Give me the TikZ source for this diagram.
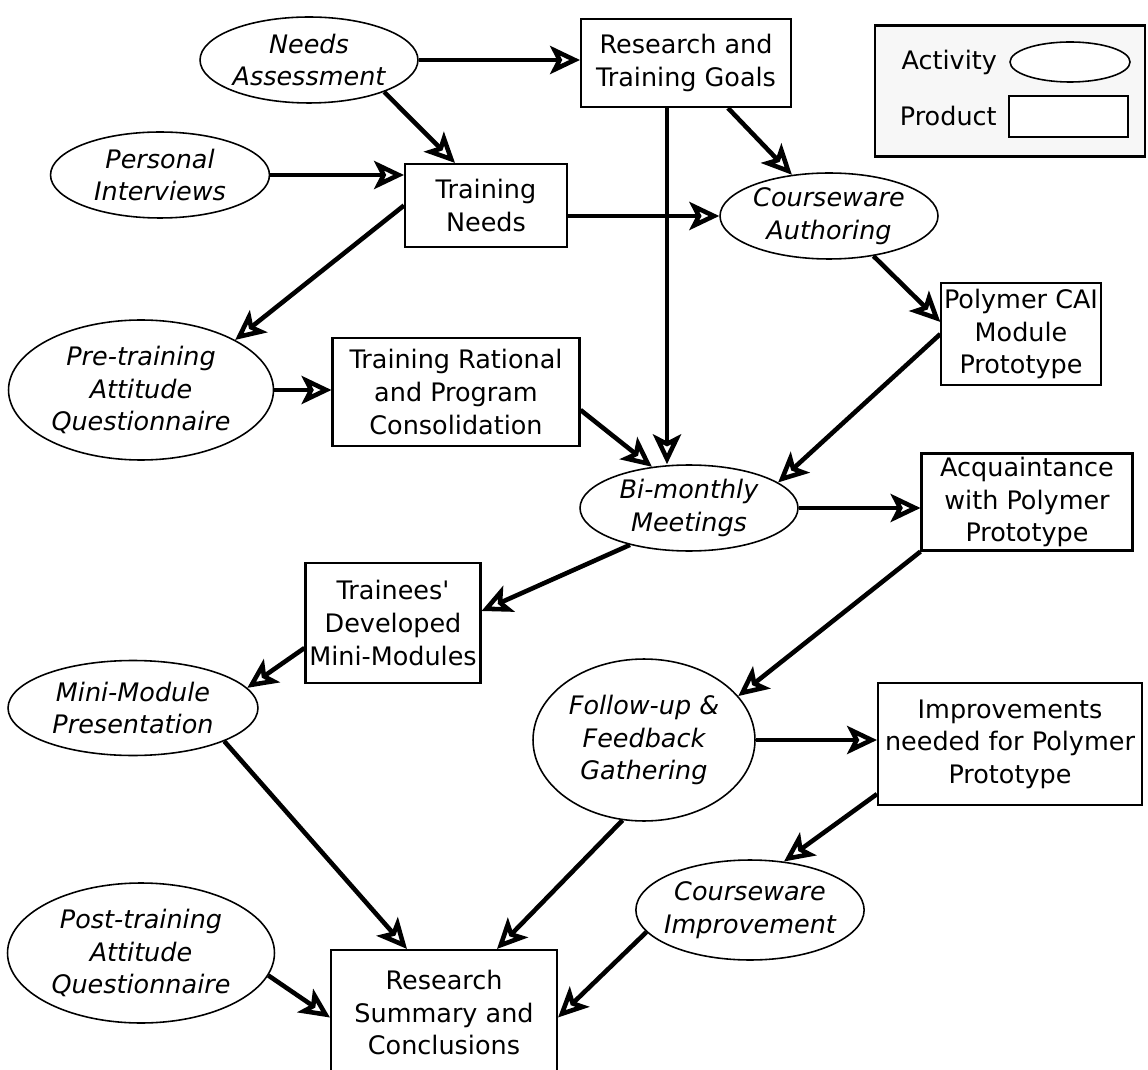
\documentclass[tikz,border=0pt]{standalone}
\usepackage{fontspec}
\setmainfont{DejaVu Sans}
\usepackage{tikz}
\usetikzlibrary{calc,shapes.geometric,arrows.meta}
\definecolor{legendbg}{HTML}{F7F7F7}
\tikzset{
  activity/.style={ellipse, draw, line width=0.9pt, inner sep=-3pt, align=center,
    font=\itshape\fontsize{14.5}{18.5}\selectfont},
  product/.style={rectangle, draw, line width=1.2pt, inner sep=1.5pt, align=center,
    font=\fontsize{14.5}{18.5}\selectfont},
  flow/.style={line width=2.6pt, -{Stealth[open,length=17pt,width=16pt,inset=4pt]}},
}

\begin{document}
\begin{tikzpicture}[x=0.02cm, y=-0.02cm]
  \useasboundingbox (0,0) rectangle (1148,1070);
  % legend
  \node[draw, line width=1.2pt, fill=legendbg, minimum width=5.4cm, minimum height=2.62cm] (lg) at (1010,91) {};
  \node[ellipse, draw, line width=0.9pt, fill=white, minimum width=2.4cm, minimum height=0.8cm] (lgact) at (1070,62) {};
  \node[draw, line width=1.2pt, fill=white, minimum width=2.38cm, minimum height=0.82cm] (lgprod) at (1068.5,116.5) {};
  \node[anchor=east, inner sep=0pt, font=\fontsize{14.5}{18.5}\selectfont] (lgacttxt) at ($(lgact.west)+(-12,0)$) {Activity};
  \node[anchor=east, inner sep=0pt, font=\fontsize{14.5}{18.5}\selectfont] (lgprodtxt) at ($(lgprod.west)+(-11,0)$) {Product};
  % activities
  \node[activity, minimum width=4.36cm, minimum height=1.72cm] (na) at (309,60) {Needs\\Assessment};
  \node[activity, minimum width=4.38cm, minimum height=1.72cm] (pi) at (160,175) {Personal\\Interviews};
  \node[activity, minimum width=4.36cm, minimum height=1.72cm] (ca) at (829,216) {Courseware\\Authoring};
  \node[activity, minimum width=5.3cm, minimum height=2.8cm] (pa) at (141,390) {Pre-training\\Attitude\\Questionnaire};
  \node[activity, minimum width=4.36cm, minimum height=1.72cm] (bm) at (689,508) {Bi-monthly\\Meetings};
  \node[activity, minimum width=5.0cm, minimum height=1.9cm] (mm) at (133,708) {Mini-Module\\Presentation};
  \node[activity, minimum width=4.44cm, minimum height=3.24cm] (fu) at (644,740) {Follow-up \&\\Feedback\\Gathering};
  \node[activity, minimum width=4.32cm, minimum height=2.0cm] (ci) at (750,910) {Courseware\\Improvement};
  \node[activity, minimum width=5.34cm, minimum height=2.8cm] (pt) at (141,953) {Post-training\\Attitude\\Questionnaire};
  % products
  \node[product, minimum width=4.2cm, minimum height=1.76cm] (rg) at (686,63) {Research and\\Training Goals};
  \node[product, minimum width=3.24cm, minimum height=1.66cm] (tn) at (486,205.5) {Training\\Needs};
  \node[product, minimum width=3.1cm, minimum height=2.04cm] (pc) at (1021,334) {Polymer CAI\\Module\\Prototype};
  \node[product, minimum width=4.94cm, minimum height=2.16cm] (tr) at (456,392) {Training Rational\\and Program\\Consolidation};
  \node[product, minimum width=4.22cm, minimum height=1.94cm] (aq) at (1027,502) {Acquaintance\\with Polymer\\Prototype};
  \node[product, minimum width=3.5cm, minimum height=2.4cm] (td) at (393,623) {Trainees\textquotesingle\\Developed\\Mini-Modules};
  \node[product, minimum width=5.28cm, minimum height=2.44cm] (im) at (1010,744) {Improvements\\needed for Polymer\\Prototype};
  \node[product, minimum width=4.52cm, minimum height=2.5cm] (rs) at (444,1012.5) {Research\\Summary and\\Conclusions};
  % connectors
  \coordinate (rgv) at ($(rg.south)+(-19,0)$);
  \draw[flow] (na.east) -- (na.east -| rg.west);
  \draw[flow] (na.-23) -- ($(tn.north)+(-31,0)$);
  \draw[flow] (pi.east) -- (pi.east -| tn.west);
  \draw[flow] (rgv) -- (rgv |- bm.north);
  \draw[flow] ($(rg.south)+(42,0)$) -- (ca.132);
  \draw[flow] (ca.west -| tn.east) -- (ca.west);
  \draw[flow] (tn.west) -- (pa.28);
  \draw[flow] (pa.east) -- (pa.east -| tr.west);
  \draw[flow] ($(tr.east)+(0,18)$) -- (bm.132);
  \draw[flow] (ca.-42) -- ($(pc.north west)+(0,40)$);
  \draw[flow] (pc.west) -- (bm.16);
  \draw[flow] (bm.east) -- (bm.east -| aq.west);
  \draw[flow] (bm.212) -- ($(td.east)+(0,-12)$);
  \draw[flow] ($(td.west)+(0,25)$) -- (mm.10);
  \draw[flow] (aq.south west) -- (fu.25);
  \draw[flow] (fu.east) -- (fu.east -| im.west);
  \draw[flow] ($(im.south west)+(0,-12)$) -- (ci.55);
  \draw[flow] (mm.-20) -- ($(rs.north)+(-37,0)$);
  \draw[flow] (fu.-105) -- ($(rs.north)+(53,0)$);
  \draw[flow] (ci.192) -- ($(rs.east)+(0,5)$);
  \draw[flow] (pt.-10) -- ($(rs.west)+(0,5)$);
\end{tikzpicture}
\end{document}
